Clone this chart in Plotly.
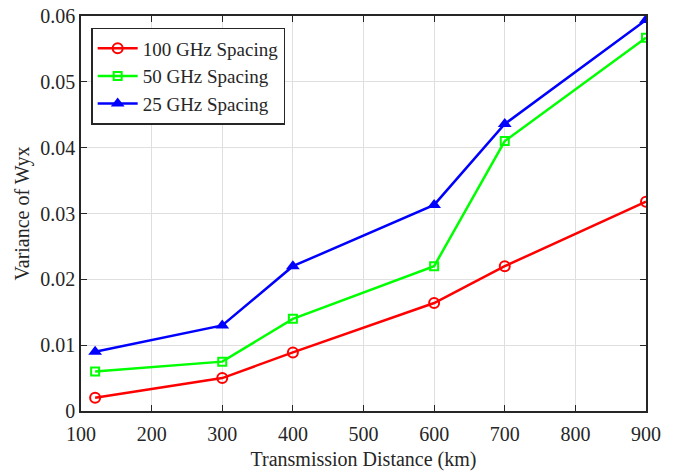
import plotly.graph_objects as go

distance = [120, 300, 400, 600, 700, 900]
var_100 = [0.0020, 0.0050, 0.0089, 0.0164, 0.0220, 0.0318]
var_50 = [0.0060, 0.0075, 0.0140, 0.0220, 0.0410, 0.0567]
var_25 = [0.0090, 0.0130, 0.0220, 0.0313, 0.0436, 0.0594]

fig = go.Figure()
fig.add_trace(go.Scatter(x=distance, y=var_100, mode="lines+markers", name="100 GHz Spacing",
                         line=dict(color="#ff0000", width=2.5),
                         marker=dict(symbol="circle-open", size=10, color="#ff0000", line=dict(width=2))))
fig.add_trace(go.Scatter(x=distance, y=var_50, mode="lines+markers", name="50 GHz Spacing",
                         line=dict(color="#00ff00", width=2.5),
                         marker=dict(symbol="square-open", size=8, color="#00ff00", line=dict(width=2))))
fig.add_trace(go.Scatter(x=distance, y=var_25, mode="lines+markers", name="25 GHz Spacing",
                         line=dict(color="#0000ff", width=2.5),
                         marker=dict(symbol="triangle-up", size=12, color="#0000ff")))

axis_common = dict(showline=True, linecolor="#262626", linewidth=1.5, mirror="ticks",
                   ticks="inside", ticklen=6, tickcolor="#262626", automargin=False,
                   showgrid=True, gridcolor="#dfdfdf", gridwidth=1, zeroline=False,
                   tickfont=dict(family="Liberation Serif", size=20, color="#262626"))

fig.update_layout(
    width=674, height=472,
    margin=dict(l=81, r=28, t=16, b=61, autoexpand=False),
    paper_bgcolor="white", plot_bgcolor="white",
    font=dict(family="Liberation Serif", color="#262626"),
    xaxis=dict(range=[100, 900], dtick=100, ticklabelstandoff=4,
               title=dict(text="Transmission Distance (km)", font=dict(size=20), standoff=8),
               **axis_common),
    yaxis=dict(range=[0, 0.06], dtick=0.01, tickformat="~g",
               title=dict(text="Variance of Wyx", font=dict(size=20), standoff=5),
               **axis_common),
    legend=dict(x=0.018, y=0.97, xanchor="left", yanchor="top",
                bgcolor="white", bordercolor="#262626", borderwidth=1.5,
                font=dict(family="Liberation Serif", size=19, color="#262626"),
                tracegroupgap=0, itemwidth=40),
    showlegend=True,
)

fig.write_html("out.html", config={"displayModeBar": False},
               post_script="document.body.style.margin='0';")
